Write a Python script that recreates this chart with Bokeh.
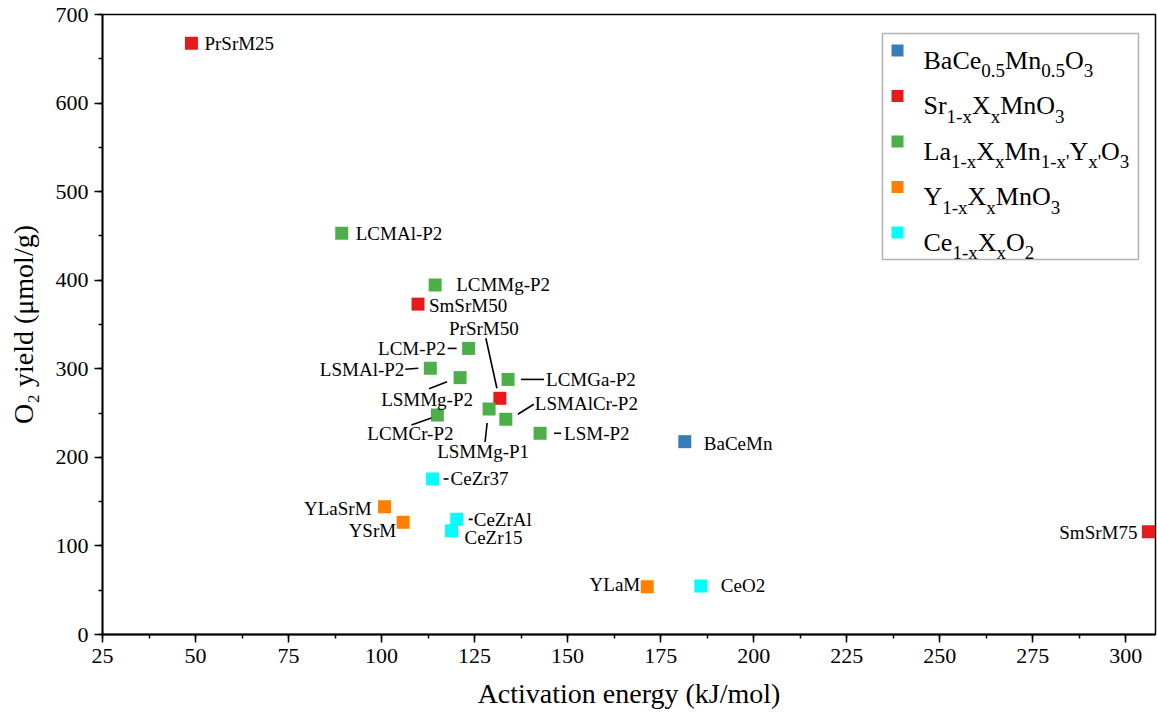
from bokeh.plotting import figure
from bokeh.models import Range1d, SingleIntervalTicker, Label, BoxAnnotation, ColumnDataSource
from bokeh.embed import file_html
from bokeh.resources import INLINE
from bokeh.core.properties import value

# ---------------- data ----------------
names = ["PrSrM25", "SmSrM50", "PrSrM50", "SmSrM75", "BaCeMn",
         "LCMAl-P2", "LCMMg-P2", "LCM-P2", "LSMAl-P2", "LSMMg-P2", "LCMGa-P2",
         "LSMMg-P1", "LSMAlCr-P2", "LCMCr-P2", "LSM-P2",
         "YLaSrM", "YSrM", "YLaM",
         "CeZr37", "CeZrAl", "CeZr15", "CeO2"]
energy = [48.9, 109.8, 131.8, 306.1, 181.5,
          89.3, 114.4, 123.4, 113.1, 121.1, 134.0,
          128.9, 133.4, 115.0, 142.6,
          100.8, 105.8, 171.4,
          113.7, 120.2, 118.8, 185.8]
o2_yield = [667.5, 373.0, 266.7, 116.0, 217.7,
            453.0, 394.6, 323.0, 300.6, 290.0, 288.0,
            254.6, 243.0, 247.8, 227.2,
            144.3, 126.7, 54.0,
            175.6, 130.0, 117.2, 54.8]
groups = ["Sr", "Sr", "Sr", "Sr", "BaCe",
          "La", "La", "La", "La", "La", "La",
          "La", "La", "La", "La",
          "Y", "Y", "Y",
          "Ce", "Ce", "Ce", "Ce"]

legend_groups = ["BaCe", "Sr", "La", "Y", "Ce"]
legend_texts = [
    [("BaCe", 0), ("0.5", 1), ("Mn", 0), ("0.5", 1), ("O", 0), ("3", 1)],
    [("Sr", 0), ("1-x", 1), ("X", 0), ("x", 1), ("MnO", 0), ("3", 1)],
    [("La", 0), ("1-x", 1), ("X", 0), ("x", 1), ("Mn", 0), ("1-x'", 1),
     ("Y", 0), ("x'", 1), ("O", 0), ("3", 1)],
    [("Y", 0), ("1-x", 1), ("X", 0), ("x", 1), ("MnO", 0), ("3", 1)],
    [("Ce", 0), ("1-x", 1), ("X", 0), ("x", 1), ("O", 0), ("2", 1)],
]

x_ticks_interval = 25
y_ticks_interval = 100

# ---------------- styles / layout ----------------
group_colors = {"BaCe": "#377EB8", "Sr": "#E41A1C", "La": "#4DAF4A",
                "Y": "#FF7F00", "Ce": "#00FFFF"}

# label placement (pixel offsets from the point), alignment, leader lines
label_dx = {"PrSrM25": 13, "SmSrM50": 11, "PrSrM50": -16, "SmSrM75": -11, "BaCeMn": 19,
            "LCMAl-P2": 14, "LCMMg-P2": 21, "LCM-P2": -23, "LSMAl-P2": -26, "LSMMg-P2": -33,
            "LCMGa-P2": 38, "LSMMg-P1": -6, "LSMAlCr-P2": 29, "LCMCr-P2": -27, "LSM-P2": 24,
            "YLaSrM": -13, "YSrM": -7, "YLaM": -7,
            "CeZr37": 18, "CeZrAl": 17, "CeZr15": 13, "CeO2": 20}
label_dy = {"PrSrM25": 0, "SmSrM50": 1, "PrSrM50": -70, "SmSrM75": 1, "BaCeMn": 2,
            "LCMAl-P2": 0, "LCMMg-P2": 0, "LCM-P2": 0, "LSMAl-P2": 1, "LSMMg-P2": 22,
            "LCMGa-P2": 0, "LSMMg-P1": 43, "LSMAlCr-P2": -16, "LCMCr-P2": 18, "LSM-P2": 0,
            "YLaSrM": 2, "YSrM": 8, "YLaM": -2,
            "CeZr37": 0, "CeZrAl": 0, "CeZr15": 7, "CeO2": 0}
label_align = {"PrSrM50": "center", "LSMMg-P2": "center", "LSMMg-P1": "center",
               "LCMCr-P2": "center",
               "SmSrM75": "right", "LCM-P2": "right", "LSMAl-P2": "right",
               "YLaSrM": "right", "YSrM": "right", "YLaM": "right"}
leaders = {"PrSrM50": (-3, -10, -14, -60), "LCM-P2": (-21, 0, -12, 0),
           "LSMAl-P2": (-25, 1, -12, 0), "LSMMg-P2": (-31, 11, -13, 4),
           "LCMGa-P2": (13, 0, 36, 0), "LSMMg-P1": (-2, 14, -4, 33),
           "LSMAlCr-P2": (12, -5, 28, -15), "LCMCr-P2": (-26, 10, -6, 3),
           "LSM-P2": (14, 0, 21, 0), "CeZr37": (11, 0, 16, 0), "CeZrAl": (12, 0, 16, 0)}

W, H = 1157, 724
FL, FR, FT, FB = 102, 2, 14, 90
X0, X1, Y0, Y1 = 25, 308, 0, 700
frame_w = W - FL - FR
frame_h = H - FT - FB
ppx = frame_w / (X1 - X0)
ppy = frame_h / (Y1 - Y0)
FONT = "Liberation Serif"

p = figure(width=W, height=H, output_backend="svg", toolbar_location=None,
           x_range=Range1d(X0, X1), y_range=Range1d(Y0, Y1),
           min_border_left=FL, min_border_right=FR, min_border_top=FT,
           min_border_bottom=FB)
p.xgrid.visible = False
p.ygrid.visible = False
p.outline_line_color = "black"
p.outline_line_width = 1.5
p.background_fill_color = "white"
p.border_fill_color = "white"

p.xaxis.ticker = SingleIntervalTicker(interval=x_ticks_interval, num_minor_ticks=2)
p.yaxis.ticker = SingleIntervalTicker(interval=y_ticks_interval, num_minor_ticks=2)
p.xaxis.axis_label = "Activation energy (kJ/mol)"
p.yaxis.axis_label = "O\u2082 yield (\u03bcmol/g)"
for ax in (p.xaxis, p.yaxis):
    ax.axis_line_width = 1.8
    ax.axis_line_color = "black"
    ax.major_tick_in = 0
    ax.major_tick_out = 8
    ax.minor_tick_in = 0
    ax.minor_tick_out = 4
    ax.major_tick_line_width = 1.5
    ax.minor_tick_line_width = 1.5
    ax.major_tick_line_color = "black"
    ax.minor_tick_line_color = "black"
    ax.major_label_text_font = FONT
    ax.major_label_text_font_size = "22px"
    ax.major_label_text_color = "black"
    ax.axis_label_text_font = FONT
    ax.axis_label_text_font_size = "28px"
    ax.axis_label_text_font_style = "normal"
    ax.axis_label_text_color = "black"
p.xaxis.major_label_standoff = 6
p.yaxis.major_label_standoff = 6
p.xaxis.axis_label_standoff = 12
p.yaxis.axis_label_standoff = 14

# points
src = ColumnDataSource(dict(x=energy, y=o2_yield, name=names,
                            color=[group_colors[g] for g in groups]))
p.scatter("x", "y", source=src, marker="square", size=13,
          fill_color="color", line_color="color", line_width=0)

# labels
for align in ("left", "center", "right"):
    idx = [i for i, n in enumerate(names) if label_align.get(n, "left") == align]
    s = ColumnDataSource(dict(
        x=[energy[i] for i in idx], y=[o2_yield[i] for i in idx],
        t=[names[i] for i in idx],
        dx=[label_dx[names[i]] for i in idx], dy=[label_dy[names[i]] for i in idx]))
    p.text("x", "y", text="t", source=s, x_offset="dx", y_offset="dy",
           text_align=align, text_baseline="middle",
           text_font=value(FONT), text_font_size=value("19px"), text_color="black")

# leader lines
x0s, y0s, x1s, y1s = [], [], [], []
for i, n in enumerate(names):
    if n in leaders:
        a, b, c, d = leaders[n]
        x0s.append(energy[i] + a / ppx); y0s.append(o2_yield[i] - b / ppy)
        x1s.append(energy[i] + c / ppx); y1s.append(o2_yield[i] - d / ppy)
p.segment(x0s, y0s, x1s, y1s, line_color="black", line_width=1.6)

# ---------------- custom legend (screen units relative to frame) ----------------
def sx(X):
    return X - FL

def sy(Y):
    return (H - FB) - Y

p.add_layout(BoxAnnotation(left=sx(882), right=sx(1138), top=sy(33), bottom=sy(259),
                           left_units="screen", right_units="screen",
                           top_units="screen", bottom_units="screen",
                           fill_color="white", fill_alpha=1.0,
                           line_color="black", line_width=1.5))

widths = {'B': 667, 'a': 444, 'C': 667, 'e': 444, 'M': 889, 'n': 500, 'O': 722,
          'S': 556, 'r': 333, 'X': 722, 'L': 611, 'Y': 722, '.': 250, '-': 333,
          'x': 500, "'": 180}
for d in "0123456789":
    widths[d] = 500

MAIN, SUB = 26, 19
row_centers = [50, 95.5, 141, 186.5, 232]
for g, parts, rc in zip(legend_groups, legend_texts, row_centers):
    p.add_layout(BoxAnnotation(left=sx(891), right=sx(903), top=sy(rc - 6), bottom=sy(rc + 6),
                               left_units="screen", right_units="screen",
                               top_units="screen", bottom_units="screen",
                               fill_color=group_colors[g], fill_alpha=1.0,
                               line_color=None))
    X = 923.0
    for txt, sub in parts:
        fs = SUB if sub else MAIN
        base = rc + (20 if sub else 9.5)
        p.add_layout(Label(x=sx(X), y=sy(base), x_units="screen", y_units="screen",
                           text=txt, text_font=FONT, text_font_size=f"{fs}px",
                           text_baseline="alphabetic", text_align="left",
                           text_color="black"))
        X += sum(widths.get(ch, 500) for ch in txt) / 1000 * fs

open("out.html", "w").write(file_html(p, INLINE))
